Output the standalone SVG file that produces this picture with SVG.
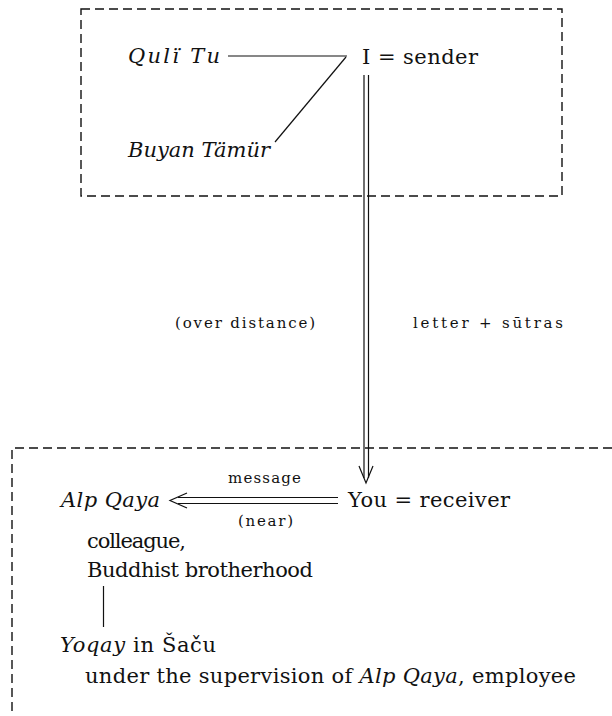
<svg xmlns="http://www.w3.org/2000/svg" width="612" height="716" viewBox="0 0 612 716">
  <style>
    text { font-family: 'DejaVu Serif', 'Liberation Serif', serif; fill: #111; }
    .t { font-size: 21px; }
    .s { font-size: 15px; }
    .i { font-style: italic; }
    .frame { fill: none; stroke: #111; stroke-width: 1.4; stroke-dasharray: 9 5; }
    .ln { fill: none; stroke: #111; stroke-width: 1.2; }
  </style>

  <!-- sender area -->
  <g id="sender-frame">
    <path class="frame" d="M81 9 H562 V196 H81 Z"/>
  </g>
  <g id="quli-tu">
    <text class="t i" x="128" y="63" textLength="92" lengthAdjust="spacing">Qulï Tu</text>
  </g>
  <g id="buyan-tamur">
    <text class="t i" x="128" y="157" textLength="142" lengthAdjust="spacing">Buyan Tämür</text>
  </g>
  <g id="sender">
    <text class="t" x="362" y="64" textLength="116" lengthAdjust="spacing">I = sender</text>
  </g>

  <!-- receiver area -->
  <g id="receiver-frame">
    <path class="frame" d="M612 448 H12 V716"/>
  </g>
  <g id="receiver">
    <text class="t" x="348" y="507" textLength="162" lengthAdjust="spacing">You = receiver</text>
  </g>
  <g id="alp-qaya">
    <text class="t i" x="61" y="507" textLength="99" lengthAdjust="spacing">Alp Qaya</text>
    <text class="t" x="87" y="548" textLength="99" lengthAdjust="spacing">colleague,</text>
    <text class="t" x="87" y="577" textLength="226" lengthAdjust="spacing">Buddhist brotherhood</text>
  </g>
  <g id="yoqay">
    <text class="t" x="60" y="652" textLength="156" lengthAdjust="spacing"><tspan class="i">Yoqay</tspan> in Šaču</text>
    <text class="t" x="85" y="683" textLength="491" lengthAdjust="spacing">under the supervision of <tspan class="i">Alp Qaya</tspan>, employee</text>
  </g>

  <!-- labels -->
  <g id="labels">
    <text class="s" x="175" y="328" textLength="140" lengthAdjust="spacing">(over distance)</text>
    <text class="s" x="413" y="328" textLength="150" lengthAdjust="spacing">letter + sūtras</text>
    <text class="s" x="228" y="483" textLength="73" lengthAdjust="spacing">message</text>
    <text class="s" x="238" y="526" textLength="55" lengthAdjust="spacing">(near)</text>
  </g>

  <!-- connectors -->
  <g id="connectors">
    <path class="ln" d="M228 56 H347"/>
    <path class="ln" d="M346 57 L275 142"/>
    <!-- double arrow down: sender to receiver -->
    <path class="ln" d="M364 75 V478 M368.5 75 V478"/>
    <path class="ln" d="M359 466 L366 483 L373 466"/>
    <!-- double arrow left: receiver to Alp Qaya -->
    <path class="ln" d="M338 497.5 H178 M338 503.5 H178"/>
    <path class="ln" d="M187 493 L170 500.5 L187 508"/>
    <!-- link below Buddhist brotherhood -->
    <path class="ln" d="M103.5 586 V627"/>
  </g>
</svg>
